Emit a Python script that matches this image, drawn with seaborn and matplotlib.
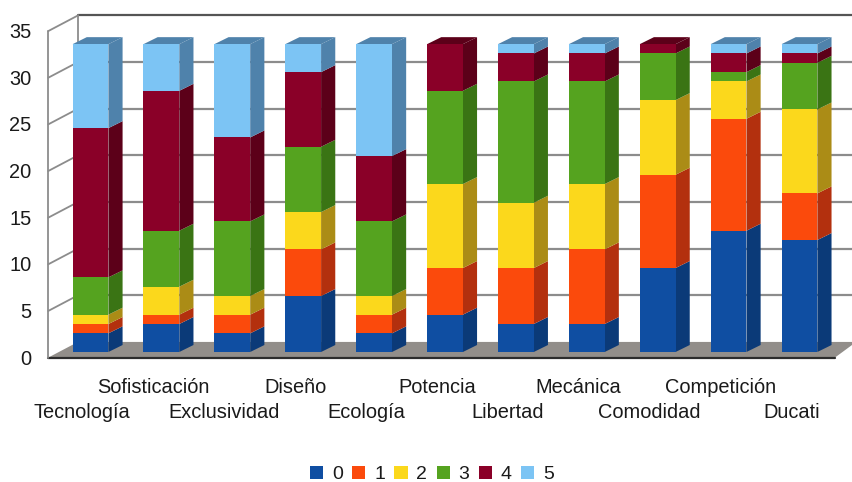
import numpy as np
import pandas as pd
import seaborn as sns
import matplotlib.pyplot as plt

categories = ["Tecnología", "Sofisticación", "Exclusividad", "Diseño", "Ecología", "Potencia",
              "Libertad", "Mecánica", "Comodidad", "Competición", "Ducati"]
serie_0 = [2, 3, 2, 6, 2, 4, 3, 3, 9, 13, 12]
serie_1 = [1, 1, 2, 5, 2, 5, 6, 8, 10, 12, 5]
serie_2 = [1, 3, 2, 4, 2, 9, 7, 7, 8, 4, 9]
serie_3 = [4, 6, 8, 7, 8, 10, 13, 11, 5, 1, 5]
serie_4 = [16, 15, 9, 8, 7, 5, 3, 3, 1, 2, 1]
serie_5 = [9, 5, 10, 3, 12, 0, 1, 1, 0, 1, 1]
series = [serie_0, serie_1, serie_2, serie_3, serie_4, serie_5]
series_names = ["0", "1", "2", "3", "4", "5"]
y_ticks = [0, 5, 10, 15, 20, 25, 30, 35]

front_colors = ["#0f4ea2", "#fb4a0c", "#fbd81c", "#55a31f", "#8a0028", "#7cc4f4"]
side_colors = ["#0b3a78", "#b3300e", "#ab8c16", "#3a7414", "#5c0019", "#4f82ab"]

BAR_WIDTH = 0.505
# extrusion of the bars and of the chart box, x in category units, y in value units
DEPTH_X, DEPTH_Y = 0.2, 0.75
WALL_X = 0.42
WALL_FRONT_DROP, WALL_BACK_RISE = 0.6, 1.08
RIGHT_EDGE = 10.8
Y_MIN = -0.6

sns.set_theme(style="white")
plt.rcParams['font.family'] = ['Liberation Sans', 'DejaVu Sans']

fig = plt.figure(figsize=(8.53, 4.82), dpi=100)
ax = fig.add_axes([55.05 / 853, 124.4 / 482, 779.85 / 853, 332.1 / 482])

back_x = -0.5 + (78 - 55.05) / 70.9
front_x = back_x - WALL_X

# box behind the bars
ax.fill([front_x, back_x, RIGHT_EDGE, RIGHT_EDGE - WALL_X + 0.12],
        [-WALL_FRONT_DROP, WALL_BACK_RISE, WALL_BACK_RISE, -WALL_FRONT_DROP],
        color="#928e8a", lw=0, zorder=0, clip_on=False)
ax.plot([front_x, RIGHT_EDGE - WALL_X + 0.12], [-WALL_FRONT_DROP, -WALL_FRONT_DROP],
        color="#2c2c2c", lw=1.6, zorder=1, clip_on=False)
for v in y_ticks[1:]:
    ax.plot([front_x, back_x], [v - WALL_FRONT_DROP, v + WALL_BACK_RISE], color="#8c8c8c", lw=1.3,
            zorder=1, clip_on=False)
    color = "#555555" if v == 35 else "#8c8c8c"
    ax.plot([back_x, RIGHT_EDGE], [v + WALL_BACK_RISE, v + WALL_BACK_RISE], color=color, lw=1.6, zorder=1,
            clip_on=False)
ax.plot([front_x, front_x], [-WALL_FRONT_DROP, 35 - WALL_FRONT_DROP], color="#8c8c8c", lw=1.3, zorder=1,
        clip_on=False)
ax.plot([back_x, back_x], [WALL_BACK_RISE, 35 + WALL_BACK_RISE], color="#8c8c8c", lw=1.3, zorder=1,
        clip_on=False)

# front faces, stacked through seaborn
bottoms = np.zeros(len(categories))
for name, values, color, side in zip(series_names, series, front_colors, side_colors):
    df = pd.DataFrame({"cat": categories, "value": values})
    sns.barplot(data=df, x="cat", y="value", bottom=bottoms, color=color, saturation=1, width=BAR_WIDTH,
                label=name, linewidth=0, zorder=4, ax=ax, errorbar=None)
    # right side face of each segment
    for i, v in enumerate(values):
        if v == 0:
            continue
        x0 = i + BAR_WIDTH / 2
        x1 = x0 + DEPTH_X
        b, t = bottoms[i], bottoms[i] + v
        ax.fill([x0, x1, x1, x0], [b, b + DEPTH_Y, t + DEPTH_Y, t], color=side, lw=0, zorder=3, clip_on=False)
    bottoms = bottoms + np.array(values)

# top face takes the colour of the last non empty segment
for i in range(len(categories)):
    top_series = max(k for k in range(len(series)) if series[k][i] > 0)
    x0, x1 = i - BAR_WIDTH / 2, i + BAR_WIDTH / 2
    t = bottoms[i]
    ax.fill([x0, x1, x1 + DEPTH_X, x0 + DEPTH_X], [t, t, t + DEPTH_Y, t + DEPTH_Y],
            color=side_colors[top_series], lw=0, zorder=3, clip_on=False)

ax.set_xlabel("")
ax.set_ylabel("")

# labels sit left of the bars and below the zero line of the floor
ax.set_yticks(np.array(y_ticks) - 0.55, [str(v) for v in y_ticks])
ax.set_xticks(np.arange(len(categories)) - 0.115, categories)
ax.set_xlim(-0.5, 10.5)
ax.set_ylim(Y_MIN, 35)
ax.tick_params(axis="both", length=0, labelsize=14.4, labelcolor="#1a1a1a")
ax.tick_params(axis="y", pad=17)
for i, tick in enumerate(ax.xaxis.get_major_ticks()):
    tick.set_pad(32.8 if i % 2 == 0 else 14.8)
ax.patch.set_alpha(0)
sns.despine(ax=ax, left=True, bottom=True)

handles, labels = ax.get_legend_handles_labels()
if ax.get_legend() is not None:
    ax.get_legend().remove()
fig.legend(handles[:6], labels[:6], ncol=6, loc="center", bbox_to_anchor=(432 / 853, 1 - 474.5 / 482), frameon=False,
           fontsize=14, handlelength=0.68, handleheight=0.68, handletextpad=0.45, columnspacing=0.48,
           labelcolor="#1a1a1a", borderpad=0)

fig.savefig("out.png", dpi=100)
